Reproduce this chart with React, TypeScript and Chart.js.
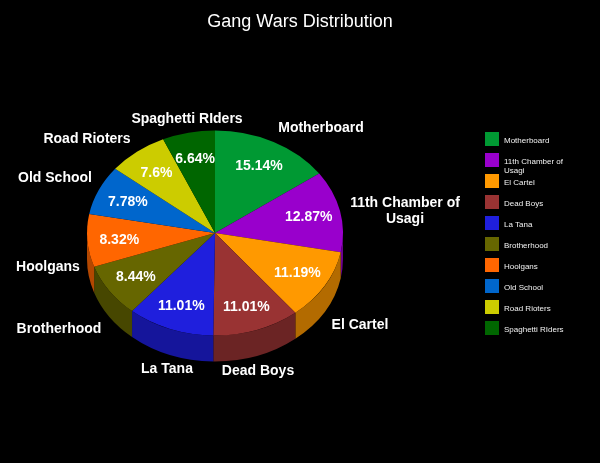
import React, { useEffect, useRef } from "react";
import { Chart, registerables } from "chart.js";

Chart.register(...registerables);

const titleText = "Gang Wars Distribution";
const categories = [
  "Motherboard",
  "11th Chamber of Usagi",
  "El Cartel",
  "Dead Boys",
  "La Tana",
  "Brotherhood",
  "Hoolgans",
  "Old School",
  "Road Rioters",
  "Spaghetti RIders",
];
const shares = [15.14, 12.87, 11.19, 11.01, 11.01, 8.44, 8.32, 7.78, 7.6, 6.64];
const sliceColors = [
  "#009933",
  "#9900CC",
  "#FF9900",
  "#993333",
  "#1F1FDD",
  "#666600",
  "#FF6600",
  "#0066CC",
  "#CCCC00",
  "#006600",
];
const wallColors = [
  "#006B24",
  "#6B008F",
  "#B36B00",
  "#6B2424",
  "#15159B",
  "#474700",
  "#B34700",
  "#00478F",
  "#8F8F00",
  "#004700",
];
// centre of each outer label, in pixels from the pie's centre
const outerLabelOffsets = [
  [106, -106],
  [190, -23],
  [145, 91],
  [43, 137],
  [-48, 135],
  [-156, 95],
  [-167, 33],
  [-160, -56],
  [-128, -95],
  [-28, -115],
];

const FONT = '"Liberation Sans", Arial, sans-serif';
const PIE = { cx: 215, cy: 233, rx: 128, ry: 102.5, depth: 26 };
const LEGEND = { boxX: 485, boxY: 132, box: 14, step: 21, textX: 504 };

function wrap(ctx: CanvasRenderingContext2D, text: string, limit: number): string[] {
  const lines: string[] = [];
  let line = "";
  for (const word of text.split(" ")) {
    const next = line ? line + " " + word : word;
    if (line && ctx.measureText(next).width > limit) {
      lines.push(line);
      line = word;
    } else {
      line = next;
    }
  }
  lines.push(line);
  return lines;
}

const pie3d = {
  id: "pie3d",
  beforeDatasetsDraw(chart: any) {
    const { ctx } = chart;
    const arcs = chart.getDatasetMeta(0).data;
    // side wall: the front half of the rim, pushed down by the depth
    arcs.forEach((arc: any, i: number) => {
      const a = Math.max(arc.startAngle, 0);
      const b = Math.min(arc.endAngle, Math.PI);
      const inFront = arc.startAngle < Math.PI && arc.endAngle > 0;
      if (!inFront || b <= a) return;
      ctx.save();
      ctx.fillStyle = wallColors[i];
      ctx.beginPath();
      ctx.ellipse(PIE.cx, PIE.cy, PIE.rx, PIE.ry, 0, a, b, false);
      ctx.ellipse(PIE.cx, PIE.cy + PIE.depth, PIE.rx, PIE.ry, 0, b, a, true);
      ctx.closePath();
      ctx.fill();
      ctx.restore();
    });
    // the flat top: the library's arcs, squeezed into the tilted ellipse
    const first = arcs[0];
    const R = first.outerRadius;
    ctx.save();
    ctx.translate(PIE.cx, PIE.cy);
    ctx.scale(PIE.rx / R, PIE.ry / R);
    ctx.translate(-first.x, -first.y);
  },
  afterDatasetsDraw(chart: any) {
    chart.ctx.restore();
  },
  afterDraw(chart: any) {
    const { ctx } = chart;
    const arcs = chart.getDatasetMeta(0).data;
    ctx.save();
    ctx.fillStyle = "#FFFFFF";
    ctx.textAlign = "center";
    ctx.textBaseline = "middle";

    ctx.font = `bold 14px ${FONT}`;
    arcs.forEach((arc: any, i: number) => {
      const mid = (arc.startAngle + arc.endAngle) / 2;
      const x = PIE.cx + 0.75 * PIE.rx * Math.cos(mid);
      const y = PIE.cy + 0.75 * PIE.ry * Math.sin(mid);
      ctx.fillText(`${shares[i]}%`, x, y + 1);

      const lines = wrap(ctx, categories[i], 120);
      const [dx, dy] = outerLabelOffsets[i];
      lines.forEach((line, n) => {
        ctx.fillText(line, PIE.cx + dx, PIE.cy + dy + 1 + (n - (lines.length - 1) / 2) * 16);
      });
    });

    // legend
    ctx.textAlign = "left";
    ctx.font = `8px ${FONT}`;
    categories.forEach((name, i) => {
      const top = LEGEND.boxY + i * LEGEND.step;
      ctx.fillStyle = sliceColors[i];
      ctx.fillRect(LEGEND.boxX, top, LEGEND.box, LEGEND.box);
      ctx.fillStyle = "#F2F2F2";
      const lines = wrap(ctx, name, 70);
      lines.forEach((line, n) => {
        ctx.fillText(line, LEGEND.textX, top + 8.5 + n * 9);
      });
    });
    ctx.restore();
  },
};

export default function App() {
  const ref = useRef<HTMLCanvasElement | null>(null);

  useEffect(() => {
    const chart = new Chart(ref.current as HTMLCanvasElement, {
      type: "pie",
      data: {
        labels: categories,
        datasets: [
          {
            data: shares,
            backgroundColor: sliceColors,
            borderWidth: 0,
          },
        ],
      },
      options: {
        responsive: false,
        animation: false,
        events: [],
        plugins: {
          legend: { display: false },
          tooltip: { enabled: false },
          title: {
            display: true,
            text: titleText,
            color: "#FFFFFF",
            font: { family: FONT, size: 18, weight: "normal" },
            padding: { top: 11, bottom: 10 },
          },
        },
      },
      plugins: [pie3d],
    } as any);
    return () => chart.destroy();
  }, []);

  return (
    <div style={{ position: "absolute", left: 0, top: 0, width: 600, height: 463, background: "#000" }}>
      <canvas ref={ref} width={600} height={463} style={{ display: "block", background: "#000" }} />
    </div>
  );
}
